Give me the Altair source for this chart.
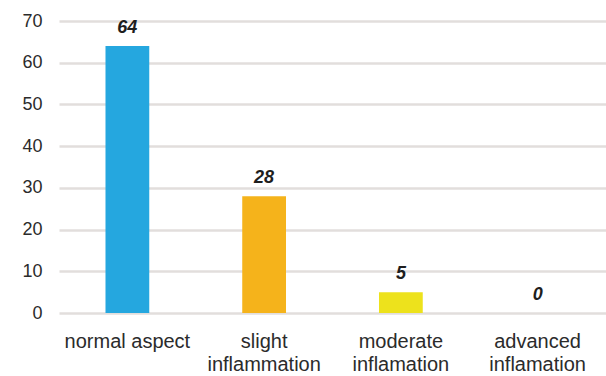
import altair as alt
import pandas as pd

# Category labels (multi-line where the name wraps), counts and bar colours
categories = ["normal aspect", "slight inflammation", "moderate inflamation", "advanced inflamation"]
label_lines = [["normal aspect"], ["slight", "inflammation"], ["moderate", "inflamation"], ["advanced", "inflamation"]]
counts = [64, 28, 5, 0]
colors = ["#25a7df", "#f5b31b", "#ede21c", "#cccccc"]
y_ticks = [0, 10, 20, 30, 40, 50, 60, 70]

df = pd.DataFrame({"category": categories, "count": counts})

label_expr = (
    "{"
    + ", ".join(f"'{c}': {l!r}" for c, l in zip(categories, label_lines))
    + "}[datum.value]"
)

x = alt.X(
    "category:N",
    sort=categories,
    scale=alt.Scale(paddingInner=0.68, paddingOuter=0.34),
    axis=alt.Axis(
        title=None,
        labelAngle=0,
        labelExpr=label_expr,
        labelFont="Liberation Sans",
        labelFontSize=20,
        labelColor="#2b2b2b",
        labelPadding=18,
        labelLineHeight=23,
        labelBaseline="top",
        domain=False,
        ticks=False,
    ),
)

y = alt.Y(
    "count:Q",
    scale=alt.Scale(domain=[0, 70], nice=False),
    axis=alt.Axis(
        title=None,
        values=y_ticks,
        labelFont="Liberation Sans",
        labelFontSize=18,
        labelColor="#2b2b2b",
        labelPadding=17,
        domain=False,
        ticks=False,
        gridColor="#e2dedc",
        gridWidth=2.5,
    ),
)

bars = alt.Chart(df).mark_bar().encode(
    x=x,
    y=y,
    color=alt.Color("category:N", scale=alt.Scale(domain=categories, range=colors), legend=None),
)

values = alt.Chart(df).mark_text(
    dy=-13,
    baseline="alphabetic",
    font="Liberation Sans",
    fontSize=18,
    fontWeight="bold",
    fontStyle="italic",
    color="#1e1e1e",
).encode(
    x=alt.X("category:N", sort=categories),
    y=alt.Y("count:Q"),
    text="count:Q",
)

chart = (
    alt.layer(bars, values)
    .properties(
        width=547,
        height=292,
        autosize=alt.AutoSizeParams(type="none"),
        padding={"left": 59, "top": 21, "right": 0, "bottom": 63},
        background="white",
    )
    .configure_view(stroke=None)
)

chart.save("out.html", embed_options={"renderer": "svg", "actions": False})
